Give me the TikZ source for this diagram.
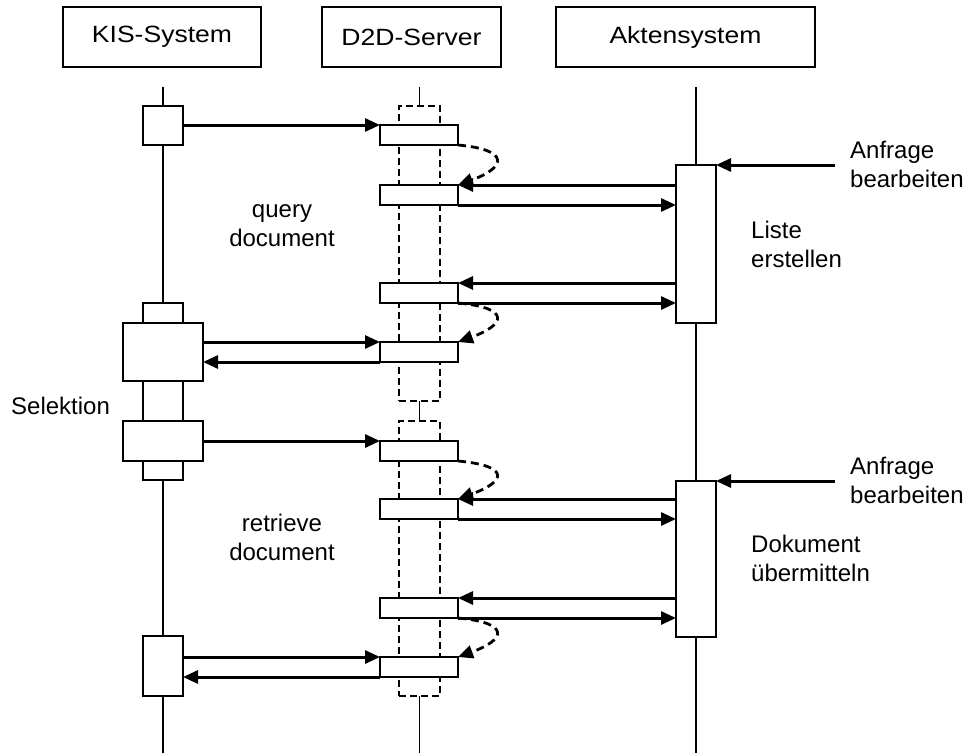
\documentclass[tikz,border=0pt]{standalone}
\usepackage{fontspec}
\setmainfont{Liberation Sans}
\newfontfamily\headfont[FakeStretch=1.13]{Liberation Sans}
\usetikzlibrary{arrows.meta}
\begin{document}
\begin{tikzpicture}[x=1pt,y=-1pt,
  head/.style={draw,line width=1.2pt,inner sep=0pt,outer sep=0pt,minimum height=60pt,
    font=\headfont\fontsize{23.5}{28}\selectfont},
  actbox/.style={draw,fill=white,line width=1.3pt,inner sep=0pt,outer sep=0pt,anchor=north west},
  bar/.style={actbox,minimum width=78pt,minimum height=20pt},
  frame/.style={draw,line width=2.6pt,dash pattern=on 7pt off 4pt,inner sep=0pt,outer sep=0pt,
    anchor=north west,minimum width=41pt},
  life/.style={line width=1.2pt},
  msg/.style={line width=3pt,-{Triangle[length=15pt,width=13pt]}},
  self/.style={line width=2.8pt,dash pattern=on 8pt off 5pt,-{Triangle[length=15pt,width=13pt]}},
  lbl/.style={inner sep=0pt,font=\fontsize{24}{29}\selectfont},
]
\useasboundingbox (0,0) rectangle (974,753);

% header boxes
\node[head,minimum width=198pt] (kis) at (162,37) {KIS-System};
\node[head,minimum width=179pt] (srv) at (411.5,37) {D2D-Server};
\node[head,minimum width=259pt] (akt) at (685.5,37) {Aktensystem};

% lifelines
\coordinate (kTop) at (163,87);   \coordinate (kBot) at (163,753);
\coordinate (sTop) at (419.5,87); \coordinate (sBot) at (419.5,753);
\coordinate (aTop) at (696,87);   \coordinate (aBot) at (696,753);
\draw[life] (kTop) -- (kBot);
\draw[life] (aTop) -- (aBot);

% D2D-Server: dashed frames of the two sessions
\node[frame,minimum height=295pt] (d1) at (399,106) {};
\node[frame,minimum height=275pt] (d2) at (399,421) {};
\draw[life] (sTop) -- (d1.north);
\draw[life] (d1.south) -- (d2.north);
\draw[life] (d2.south) -- (sBot);

% KIS-System activations
\node[actbox,minimum width=40pt,minimum height=39pt] (k1) at (143,106) {};
\node[actbox,minimum width=40pt,minimum height=177pt] (kn) at (143,303) {};
\node[actbox,minimum width=80pt,minimum height=58pt] (kw1) at (123,323) {};
\node[actbox,minimum width=80pt,minimum height=40pt] (kw2) at (123,421) {};
\node[actbox,minimum width=40pt,minimum height=60pt] (k4) at (143,636) {};

% Aktensystem activations
\node[actbox,minimum width=40pt,minimum height=158pt] (a1) at (676,165) {};
\node[actbox,minimum width=40pt,minimum height=156pt] (a2) at (676,481) {};

% D2D-Server activations
\node[bar] (b1) at (380,125) {};
\node[bar] (b2) at (380,185) {};
\node[bar] (b3) at (380,283) {};
\node[bar] (b4) at (380,342) {};
\node[bar] (b5) at (380,441) {};
\node[bar] (b6) at (380,499) {};
\node[bar] (b7) at (380,598) {};
\node[bar] (b8) at (380,657) {};

% query document
\draw[msg] (k1.east |- b1.north west) -- (b1.north west);
\draw[self] (b1.south east) .. controls +(54,5) and +(47,-17) .. (b2.north east);
\draw[msg] (a1.west |- b2.north east) -- (b2.north east);
\draw[msg] (b2.south east) -- (a1.west |- b2.south east);
\draw[msg] (a1.west |- b3.north east) -- (b3.north east);
\draw[msg] (b3.south east) -- (a1.west |- b3.south east);
\draw[self] (b3.south east) .. controls +(54,5) and +(47,-17) .. (b4.north east);
\draw[msg] (kw1.east |- b4.north west) -- (b4.north west);
\draw[msg] (b4.south west) -- (kw1.east |- b4.south west);

% retrieve document
\draw[msg] (kw2.east |- b5.north west) -- (b5.north west);
\draw[self] (b5.south east) .. controls +(54,5) and +(47,-17) .. (b6.north east);
\draw[msg] (a2.west |- b6.north east) -- (b6.north east);
\draw[msg] (b6.south east) -- (a2.west |- b6.south east);
\draw[msg] (a2.west |- b7.north east) -- (b7.north east);
\draw[msg] (b7.south east) -- (a2.west |- b7.south east);
\draw[self] (b7.south east) .. controls +(54,5) and +(47,-17) .. (b8.north east);
\draw[msg] (k4.east |- b8.north west) -- (b8.north west);
\draw[msg] (b8.south west) -- (k4.east |- b8.south west);

% incoming requests
\coordinate (in1) at (835,165);
\coordinate (in2) at (835,481);
\draw[msg] (in1) -- (a1.north east);
\draw[msg] (in2) -- (a2.north east);

% labels (base anchor sits on the last line)
\node[lbl,align=center,anchor=base] (lq) at (282,246) {query\\document};
\node[lbl,align=center,anchor=base] (lr) at (282,560) {retrieve\\document};
\node[lbl,align=left,anchor=base west] (ll) at (751,267) {Liste\\erstellen};
\node[lbl,align=left,anchor=base west] (ld) at (751,581) {Dokument\\übermitteln};
\node[lbl,align=left,anchor=base west] (lf1) at (850,187) {Anfrage\\bearbeiten};
\node[lbl,align=left,anchor=base west] (lf2) at (850,503) {Anfrage\\bearbeiten};
\node[lbl,anchor=base west] (ls) at (11,414) {Selektion};
\end{tikzpicture}
\end{document}
